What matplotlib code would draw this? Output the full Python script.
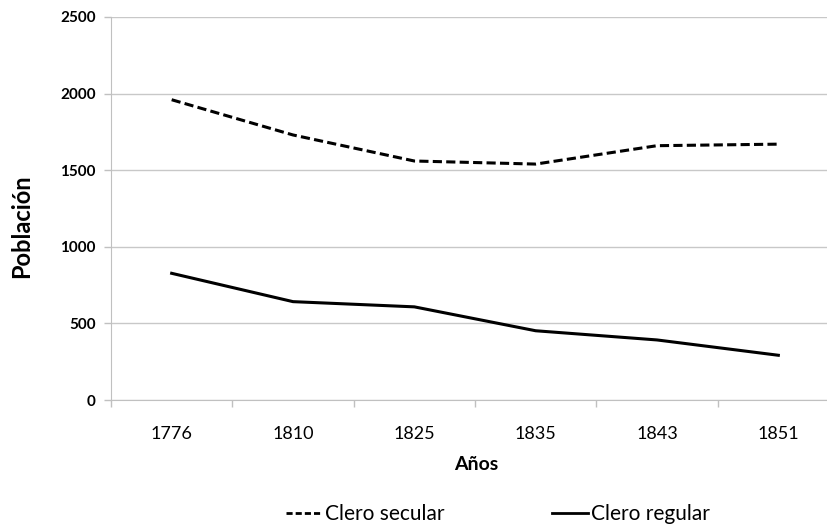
import matplotlib
matplotlib.use("Agg")
import matplotlib.pyplot as plt
from matplotlib.lines import Line2D

years = ["1776", "1810", "1825", "1835", "1843", "1851"]
clero_secular = [1960, 1730, 1560, 1540, 1660, 1670]
clero_regular = [827, 642, 608, 452, 392, 292]
y_ticks = [0, 500, 1000, 1500, 2000, 2500]

plt.rcParams['font.family'] = ['Lato', 'DejaVu Sans']

fig = plt.figure(figsize=(8.27, 5.27), dpi=100)
ax = fig.add_axes([111/827, 1-400/527, 728/827, 383/527])

x = list(range(len(years)))
ax.plot(x, clero_secular, color='black', lw=2.2, linestyle=(0, (3, 1.4)), label='Clero secular')
ax.plot(x, clero_regular, color='black', lw=2.2, linestyle='-', label='Clero regular')

ax.set_xlim(-0.5, len(years) - 0.5)
ax.set_ylim(0, 2500)
ax.set_yticks(y_ticks)
ax.set_yticklabels([str(v) for v in y_ticks], fontweight='bold', fontsize=11)
ax.yaxis.grid(True, color='#c8c8c8', lw=1)
ax.set_axisbelow(True)

ax.set_xticks(x)
ax.set_xticklabels(years, fontsize=13)
ax.set_xticks([i + 0.5 for i in range(-1, len(years))], minor=True)
ax.tick_params(axis='x', which='major', length=0, pad=19)
ax.tick_params(axis='x', which='minor', length=5, color='#c0c0c0', width=1)
ax.tick_params(axis='y', length=5, color='#c0c0c0', width=1, pad=6)

for s in ['top', 'right']:
    ax.spines[s].set_visible(False)
ax.spines['left'].set_color('#c0c0c0')
ax.spines['bottom'].set_color('#c0c0c0')

ax.set_xlabel('Años', fontsize=14, fontweight='bold')
ax.xaxis.set_label_coords((476-111)/728, -(456-400)/383)
ax.xaxis.label.set_va('top')
ax.set_ylabel('Población', fontsize=17, fontweight='bold')
ax.yaxis.set_label_coords((33-111)/728, (400-226)/383)

handles = [Line2D([], [], color='black', lw=2.0, linestyle=(0, (2.2, 1.1))),
           Line2D([], [], color='black', lw=2.0)]
fig.legend(handles, ['Clero secular', 'Clero regular'], loc='center',
           bbox_to_anchor=(498/827, 1-514/527), ncol=2, frameon=False,
           fontsize=15, handlelength=1.7, handletextpad=0.15, columnspacing=5.2,
           borderpad=0, borderaxespad=0)

fig.savefig('out.png', dpi=100)
